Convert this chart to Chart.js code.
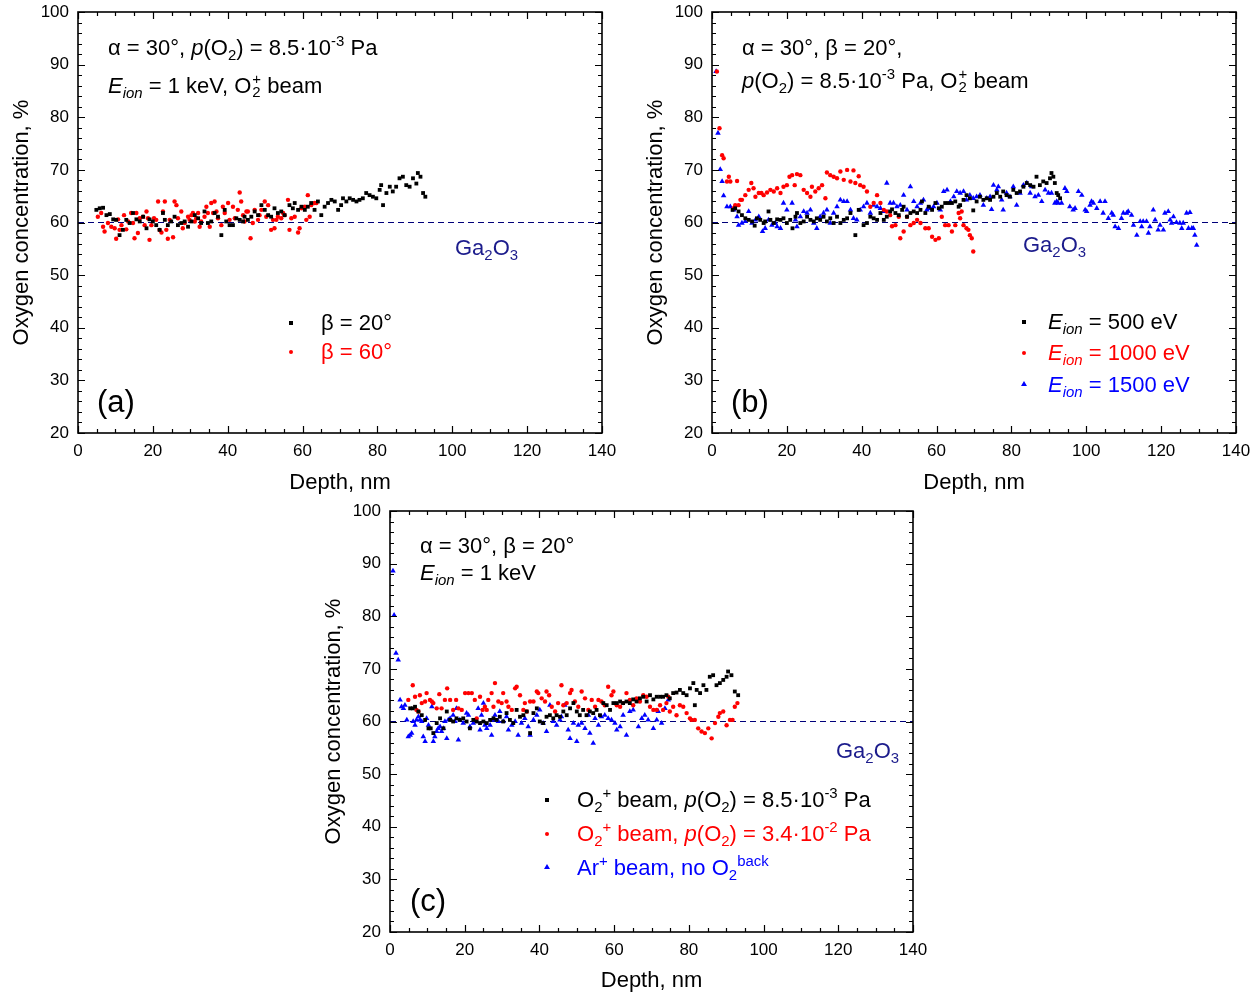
<!DOCTYPE html>
<html>
<head>
<meta charset="utf-8">
<script src="https://cdn.jsdelivr.net/npm/chart.js@4.4.1/dist/chart.umd.min.js"></script>
<style>
  body { margin: 0; background: #fff; width: 1259px; height: 995px; overflow: hidden; position: relative;
         font-family: "Liberation Sans", Arial, sans-serif; }
  canvas { position: absolute; }
  .t { position: absolute; white-space: nowrap; font-size: 22px; line-height: 24px; color: #000; }
  .t sub, .t sup { font-size: 0.68em; line-height: 0; }
  .t sub { vertical-align: -0.32em; }
  .t sup { vertical-align: 0.62em; }
  .ss { display: inline-block; position: relative; width: 0.45em; height: 1em; }
  .ss b { position: absolute; left: 1px; font-weight: normal; font-size: 0.68em; line-height: 1; }
  .ss b.p { top: 0.05em; }
  .ss b.s { top: 0.95em; }
  .red { color: #ff0000; }
  .blue { color: #0000ff; }
  .navy { color: #1c1c8c; }
  .big { font-size: 31px; line-height: 34px; }
  .mk { position: absolute; }
  .sq { width: 4px; height: 4px; background: #000; }
  .ci { width: 4px; height: 4px; border-radius: 50%; background: #ff0000; }
  .tr { width: 0; height: 0; border-left: 3px solid transparent; border-right: 3px solid transparent; border-bottom: 5px solid #0000ff; }
</style>
</head>
<body>
<canvas id="chartA" width="625" height="500" style="left:0;top:0"></canvas>
<canvas id="chartB" width="625" height="500" style="left:634px;top:0"></canvas>
<canvas id="chartC" width="624" height="496" style="left:312px;top:499px"></canvas>

<!-- panel (a) texts -->
<div class="t" style="left:108px;top:36px">α = 30°, <i>p</i>(O<sub>2</sub>) = 8.5·10<sup>-3</sup> Pa</div>
<div class="t" style="left:108px;top:71px"><i>E<sub>ion</sub></i> = 1 keV, O<span class="ss"><b class="p">+</b><b class="s">2</b></span> beam</div>
<div class="t navy" style="left:455px;top:236px">Ga<sub>2</sub>O<sub>3</sub></div>
<div class="mk sq" style="left:289px;top:321px"></div>
<div class="t" style="left:321px;top:311px">β = 20°</div>
<div class="mk ci" style="left:289px;top:350px"></div>
<div class="t red" style="left:321px;top:340px">β = 60°</div>
<div class="t big" style="left:97px;top:385px">(a)</div>

<!-- panel (b) texts -->
<div class="t" style="left:742px;top:36px">α = 30°, β = 20°,</div>
<div class="t" style="left:742px;top:66px"><i>p</i>(O<sub>2</sub>) = 8.5·10<sup>-3</sup> Pa, O<span class="ss"><b class="p">+</b><b class="s">2</b></span> beam</div>
<div class="t navy" style="left:1023px;top:233px">Ga<sub>2</sub>O<sub>3</sub></div>
<div class="mk sq" style="left:1022px;top:320px"></div>
<div class="t" style="left:1048px;top:310px"><i>E<sub>ion</sub></i> = 500 eV</div>
<div class="mk ci" style="left:1022px;top:351px"></div>
<div class="t red" style="left:1048px;top:341px"><i>E<sub>ion</sub></i> = 1000 eV</div>
<div class="mk tr" style="left:1021px;top:381px"></div>
<div class="t blue" style="left:1048px;top:373px"><i>E<sub>ion</sub></i> = 1500 eV</div>
<div class="t big" style="left:731px;top:385px">(b)</div>

<!-- panel (c) texts -->
<div class="t" style="left:420px;top:534px">α = 30°, β = 20°</div>
<div class="t" style="left:420px;top:561px"><i>E<sub>ion</sub></i> = 1 keV</div>
<div class="t navy" style="left:836px;top:739px">Ga<sub>2</sub>O<sub>3</sub></div>
<div class="mk sq" style="left:545px;top:798px"></div>
<div class="t" style="left:577px;top:788px">O<sub>2</sub><sup>+</sup> beam, <i>p</i>(O<sub>2</sub>) = 8.5·10<sup>-3</sup> Pa</div>
<div class="mk ci" style="left:545px;top:832px"></div>
<div class="t red" style="left:577px;top:822px">O<sub>2</sub><sup>+</sup> beam, <i>p</i>(O<sub>2</sub>) = 3.4·10<sup>-2</sup> Pa</div>
<div class="mk tr" style="left:544px;top:864px"></div>
<div class="t blue" style="left:577px;top:856px">Ar<sup>+</sup> beam, no O<sub>2</sub><sup>back</sup></div>
<div class="t big" style="left:410px;top:884px">(c)</div>

<script>
// axis ranges / ticks
const depthRange = [0, 140];
const oxyRange = [20, 100];
const depthStep = 20, depthMinor = 5;
const oxyStep = 10, oxyMinor = 2;

// Ga2O3 reference level
const refDepth = [0, 140];
const refLevel = [60, 60];

// (a) beta = 20 deg
const depthA20 = [4.9,5.8,6.7,7.6,8.5,9.4,10.2,11.1,12.0,12.9,13.8,14.7,15.6,16.5,17.4,18.3,19.1,20.0,20.9,21.8,
  22.7,23.2,24.0,24.9,25.8,26.7,27.6,28.5,29.4,30.3,31.2,32.1,32.9,33.8,34.7,35.6,36.5,37.4,38.3,39.2,
  39.6,40.5,41.4,42.3,43.2,44.1,44.5,45.4,46.3,47.2,48.1,49.0,49.9,50.8,51.6,52.5,53.4,54.3,55.2,56.5,
  57.4,57.9,58.8,59.7,60.6,61.4,62.3,63.2,64.1,65.0,65.9,66.8,67.7,68.6,69.5,70.3,70.8,71.7,72.6,73.5,
  74.4,75.2,76.1,77.0,77.9,78.8,79.7,80.6,81.0,81.5,82.4,83.3,84.1,85.0,85.9,86.8,87.7,88.6,89.5,90.4,
  90.8,91.5,92.2,92.8];
const oxyA20 = [62.4,62.7,62.8,61.4,61.6,60.6,60.5,57.6,58.6,60.5,59.9,61.8,60.6,60.2,61.1,58.9,60.6,60.2,59.5,58.6,
  61.8,60.5,59.5,60.2,61.1,59.5,59.9,60.2,59.2,60.2,61.4,60.8,59.9,62.1,59.9,60.2,61.8,61.1,57.6,62.4,
  60.2,59.5,59.5,60.8,60.5,60.2,61.1,60.5,61.1,62.1,61.4,63.3,62.4,61.4,61.1,62.7,61.8,62.1,61.4,63.3,
  62.7,63.7,62.4,63.0,62.4,63.0,63.7,62.4,64.0,61.4,63.0,63.7,64.3,64.0,62.4,63.3,64.6,64.0,64.6,64.3,
  64.0,64.3,64.6,65.6,65.2,64.9,64.6,66.2,67.1,63.3,65.6,66.8,65.9,66.8,68.4,68.7,67.1,66.8,68.4,67.4,
  69.4,68.7,65.6,64.9];

// (a) beta = 60 deg
const depthA60 = [5.3,6.2,6.7,7.1,8.0,8.9,9.8,10.2,10.7,11.1,11.6,12.3,12.9,13.4,14.2,14.7,15.1,15.6,16.0,16.5,
  17.4,17.8,18.3,18.7,19.1,19.6,20.3,20.9,21.4,21.8,22.3,22.7,23.2,23.6,24.0,24.5,25.4,25.8,26.3,26.7,
  27.6,28.0,28.5,29.4,29.8,30.3,30.7,31.2,31.6,32.1,32.5,32.9,33.8,34.3,34.7,35.2,35.6,36.1,36.5,37.0,
  37.4,38.3,38.7,39.2,40.1,40.5,41.4,41.9,42.7,43.2,43.6,44.1,44.5,45.0,45.4,46.1,46.7,47.2,48.1,48.5,
  49.0,49.9,50.3,50.8,51.6,52.1,52.5,53.0,53.4,54.3,54.8,55.2,56.1,56.5,57.0,57.9,58.8,59.2,59.7,60.6,
  61.0,61.4,61.9,62.3,63.2,63.7];
const oxyA60 = [61.1,61.8,59.2,58.3,59.9,59.2,58.9,56.9,60.6,58.6,59.5,61.4,58.7,60.2,61.8,59.9,57.0,61.8,58.0,60.8,
  61.1,59.5,62.1,60.8,56.7,59.5,60.8,60.5,64.0,58.6,58.1,62.1,64.0,58.6,56.9,60.5,57.2,64.0,63.3,60.8,
  62.1,58.9,59.9,61.1,60.5,61.4,61.8,60.2,60.8,61.8,59.2,60.2,61.1,63.0,61.8,59.2,63.7,61.8,64.0,62.1,
  60.8,59.5,63.0,61.8,63.7,60.5,63.0,60.8,62.4,65.7,64.0,61.4,60.2,62.1,62.1,57.0,59.9,62.4,60.5,61.4,
  62.4,64.0,61.1,63.3,58.6,60.5,58.9,60.5,61.1,60.8,61.8,61.4,64.3,58.6,60.8,61.1,58.1,58.9,62.7,63.0,
  60.5,65.2,61.1,63.3,63.7,63.7];

// (b) E = 500 eV
const depthB500 = [5.5,6.2,7.1,8.0,8.9,9.8,10.7,11.4,12.0,12.9,13.8,14.2,15.1,15.6,16.5,17.4,18.3,19.1,20.0,20.9,
  21.5,22.3,22.7,23.6,24.5,25.4,26.3,27.2,28.0,28.9,29.8,30.7,31.6,32.5,33.4,34.3,35.2,36.1,37.0,38.3,
  39.2,40.5,41.4,42.3,43.2,44.1,45.0,45.9,46.7,47.6,48.1,49.0,49.9,50.8,51.2,52.1,53.0,53.9,54.8,55.7,
  56.1,57.0,57.9,58.8,59.7,60.6,61.4,62.3,63.2,64.1,65.0,65.9,66.3,67.2,68.0,68.9,69.8,70.7,71.6,72.5,
  73.4,74.3,75.2,76.1,77.0,77.8,78.7,79.6,80.5,81.4,82.3,83.2,84.1,85.0,85.9,86.7,87.6,88.5,89.4,90.3,
  90.7,91.2,91.6,92.1,92.5,93.0];
const oxyB500 = [62.4,62.7,62.1,61.4,60.8,60.5,60.2,59.4,60.8,60.5,59.9,60.2,62.1,60.5,59.9,60.6,60.5,60.8,59.9,60.5,
  58.9,61.1,61.8,59.9,60.2,61.1,60.5,60.2,60.8,60.5,61.1,60.2,60.8,59.9,61.1,59.9,60.5,60.8,61.8,57.6,
  62.4,59.5,59.9,61.1,60.8,60.5,61.8,60.5,61.1,62.1,62.5,61.8,61.4,62.4,63.0,61.1,61.8,62.1,61.8,62.4,
  64.0,61.8,63.0,62.4,63.7,62.7,63.0,63.7,63.7,63.7,64.0,63.0,63.3,64.3,65.2,64.6,62.3,64.0,64.9,64.3,
  64.6,64.3,64.9,65.6,64.9,65.9,65.2,64.9,66.2,65.6,65.9,66.8,67.5,67.1,66.8,68.7,67.1,67.8,67.5,68.4,
  69.4,68.7,67.5,65.6,65.2,64.6];

// (b) E = 1000 eV
const depthB1000 = [1.3,2.0,2.7,3.1,4.0,4.5,4.9,5.8,6.2,6.7,7.1,7.6,8.0,8.9,9.8,10.5,11.1,11.6,12.5,13.2,
  13.8,14.7,15.6,16.5,17.4,18.3,19.1,20.0,20.7,21.4,22.1,22.7,23.6,24.5,25.4,26.3,26.7,27.6,28.5,29.4,
  30.3,30.7,31.6,32.5,33.4,34.3,35.2,36.1,37.0,37.8,38.3,39.2,39.6,40.5,41.4,42.3,43.2,44.1,45.0,45.9,
  46.7,47.6,48.1,49.0,49.9,50.3,51.2,52.1,53.0,53.9,54.8,55.7,57.0,57.9,58.8,59.7,60.6,61.4,62.3,63.2,
  64.1,65.0,65.9,66.3,66.7,67.2,68.0,68.5,68.9,69.4,69.8];
const oxyB1000 = [88.7,77.9,72.8,72.2,67.8,68.7,67.8,62.7,63.3,67.9,63.3,64.3,64.3,65.2,66.2,67.5,66.5,64.9,65.6,65.6,
  65.2,65.7,66.2,65.9,66.5,65.6,66.8,67.1,68.7,69.0,67.1,69.2,69.0,66.2,65.6,64.9,66.8,65.9,66.5,67.1,
  64.6,69.5,69.0,68.7,68.4,69.7,68.1,70.0,67.8,69.9,67.5,68.8,67.1,66.8,65.9,63.0,63.7,65.2,63.7,62.4,
  62.1,61.4,59.3,59.5,61.1,57.0,58.3,61.1,59.5,59.9,60.5,59.9,58.9,58.9,57.3,56.7,57.0,61.1,59.5,59.5,
  58.3,59.5,61.8,60.8,62.1,59.5,58.9,58.6,57.6,57.0,54.5];

// (b) E = 1500 eV
const depthB1500 = [1.1,1.6,2.2,2.7,3.1,4.0,4.9,5.8,6.7,7.1,8.0,8.9,9.8,10.7,11.6,12.5,13.5,14.2,15.1,16.0,
  16.9,17.4,18.3,19.1,20.0,21.4,22.3,22.7,23.6,24.5,25.4,26.3,27.2,28.0,28.9,29.8,30.7,31.6,32.5,33.4,
  34.3,35.2,36.1,37.0,37.8,38.7,39.6,40.5,41.4,42.3,43.2,44.1,45.0,45.9,46.7,47.6,48.5,49.4,50.3,51.2,
  52.1,53.0,53.9,54.8,55.7,56.5,57.4,58.3,59.2,60.1,61.0,61.9,62.8,63.7,64.6,65.4,
  66.3,67.2,68.0,68.9,69.8,70.7,71.6,72.5,73.4,74.3,74.7,75.2,76.1,76.5,77.4,77.8,78.7,79.6,80.5,81.4,
  82.3,83.2,84.1,85.0,85.4,86.3,87.2,88.1,89.0,89.9,90.7,91.6,92.1,92.5,93.4,94.3,94.8,95.6,96.5,97.0,
  97.9,98.8,99.7,100.1,101.0,101.4,101.9,102.8,103.7,104.5,105.0,105.9,106.8,107.2,107.7,108.6,109.4,109.9,110.8,111.2,
  112.1,112.6,113.5,114.4,114.8,115.2,116.1,116.6,117.0,117.9,118.4,119.2,119.7,120.6,121.0,121.9,122.4,122.8,123.3,124.1,
  125.0,125.5,125.9,126.8,127.3,127.7,128.2,128.6,129.0,129.5];
const oxyB1500 = [88.7,77.0,70.1,67.8,65.1,63.0,63.0,62.4,61.1,59.5,59.9,60.2,62.1,59.9,60.5,61.1,58.3,58.9,60.5,59.5,
  59.9,59.2,58.9,63.7,62.4,63.7,60.5,59.2,61.1,62.1,61.8,62.4,59.9,58.9,61.1,61.8,62.4,59.9,61.8,63.0,
  64.3,64.0,64.0,62.4,60.8,60.5,62.4,63.0,63.7,61.8,63.3,63.0,62.7,62.1,67.5,63.7,63.7,63.0,63.3,65.2,
  62.4,66.8,64.0,63.0,63.7,64.3,62.4,62.7,63.0,63.7,62.4,65.9,66.2,64.0,64.9,65.9,
  65.6,65.9,64.3,65.2,64.6,64.9,65.2,63.3,64.6,64.9,62.5,67.1,66.2,66.8,64.3,62.4,65.6,64.9,66.8,63.3,
  65.6,67.1,67.5,65.6,66.8,64.9,65.2,64.0,66.2,65.6,65.6,63.7,64.0,63.7,63.7,66.5,65.9,63.0,62.4,62.7,
  65.9,65.2,62.4,62.1,63.3,64.0,63.7,62.7,64.0,61.8,64.0,60.8,61.8,61.4,59.2,58.9,60.8,61.8,61.8,62.1,
  61.4,59.5,57.6,60.2,59.2,60.2,60.2,58.0,59.2,62.4,60.5,58.6,59.5,58.6,61.8,62.1,60.5,59.9,61.1,60.0,
  59.9,58.9,59.9,61.8,58.9,61.9,58.9,58.9,57.6,55.7];

// (c) O2+ beam, p(O2) = 8.5e-3 Pa
const depthC1 = [5.4,6.1,6.7,7.6,8.5,9.4,10.3,10.9,11.6,12.5,13.4,14.3,15.2,16.1,16.9,17.8,18.7,19.6,20.5,21.4,
  22.3,23.2,24.1,25.0,25.9,26.8,27.7,28.5,29.4,30.3,31.2,32.1,33.0,33.9,34.8,35.7,36.6,37.5,38.4,39.3,
  40.1,41.0,41.9,42.8,43.7,44.6,45.5,46.4,47.3,48.2,49.1,50.0,50.8,51.7,52.6,53.5,54.4,55.3,56.2,57.1,
  58.0,58.9,59.8,60.7,61.6,62.4,63.3,64.2,65.1,66.0,66.9,67.8,68.7,69.6,70.5,71.4,72.3,73.1,74.0,74.9,
  75.8,76.7,77.6,78.5,79.4,80.3,81.2,81.6,82.1,83.0,83.9,84.7,85.6,86.5,87.4,88.3,89.2,90.1,90.5,91.4,
  92.3,93.2];
const oxyC1 = [62.5,62.5,62.8,61.9,61.2,60.3,58.7,58.7,57.8,59.7,60.6,58.7,61.9,60.3,60.0,60.6,60.3,60.6,60.0,58.7,
  60.3,60.0,59.7,60.0,59.7,60.3,60.6,60.3,60.9,60.0,61.6,60.3,59.7,62.2,60.9,61.2,61.9,57.8,61.6,62.5,
  60.0,59.7,60.9,61.2,60.6,61.2,60.9,61.9,61.2,62.5,63.5,61.9,61.2,62.2,61.2,61.9,61.6,62.2,61.2,63.5,
  63.1,62.2,63.5,63.5,63.8,63.5,63.8,63.5,64.2,63.8,64.4,64.7,63.8,65.0,64.2,64.7,64.7,64.7,65.0,64.4,
  65.4,65.5,66.0,65.4,65.0,66.3,67.3,63.1,66.0,65.4,66.9,66.0,68.5,68.8,66.9,67.3,67.9,68.5,69.5,68.8,
  65.7,65.0];

// (c) O2+ beam, p(O2) = 3.4e-2 Pa
const depthC2 = [4.9,6.1,6.7,7.1,7.6,8.0,8.5,9.4,9.8,10.7,11.2,11.6,12.5,13.2,13.8,14.7,15.3,16.1,16.9,17.7,
  18.3,19.2,20.1,21.0,21.9,22.7,23.2,24.1,24.8,25.4,25.9,26.3,27.2,27.7,28.1,29.0,29.9,30.3,31.2,31.7,
  32.6,33.5,33.9,34.8,35.7,36.1,36.6,37.5,38.4,39.3,39.7,40.6,41.5,41.9,42.6,43.3,44.2,45.0,45.9,46.4,
  47.3,48.2,48.6,49.5,50.4,51.3,52.2,53.1,54.0,54.9,55.8,56.6,57.5,58.4,59.3,59.8,60.7,61.6,62.4,63.3,
  64.2,65.1,66.0,66.9,67.8,68.7,69.6,70.5,71.4,72.3,73.1,74.0,74.5,74.9,75.8,76.7,77.6,78.5,79.4,80.3,
  80.7,81.6,82.5,83.4,84.3,85.2,86.1,87.0,87.9,88.3,89.2,90.1,91.0,91.7,92.3,93.0];
const oxyC2 = [64.1,66.9,64.7,62.2,61.9,65.0,63.5,63.8,65.4,64.1,63.8,63.5,62.5,65.2,62.5,64.1,66.3,64.1,62.2,64.1,
  62.5,62.2,65.4,65.4,65.4,64.1,60.6,64.7,62.2,62.8,62.2,64.1,65.4,62.8,67.3,63.8,63.5,65.4,63.8,62.8,
  62.2,66.3,66.6,65.0,62.2,63.5,61.9,63.8,63.8,65.7,65.4,64.4,63.8,65.7,65.0,62.8,61.9,63.5,66.9,63.1,
  63.5,65.4,66.0,63.8,62.8,65.7,64.4,62.2,64.1,62.8,64.1,63.8,63.1,66.6,65.0,65.7,63.1,62.8,63.5,65.4,
  64.1,63.1,64.4,63.8,65.0,64.7,62.8,62.2,62.2,63.1,62.2,63.5,64.7,61.9,62.8,61.2,63.1,62.8,61.6,60.6,
  60.3,60.3,58.7,58.1,57.8,58.7,56.8,59.7,60.9,61.6,61.9,59.3,60.3,60.3,62.8,63.5];

// (c) Ar+ beam, no O2 back
const depthC3 = [0.8,1.1,1.6,2.2,2.7,3.1,3.6,4.0,4.5,4.9,5.4,5.8,6.2,6.7,7.1,7.6,8.0,8.5,8.9,9.4,
  9.8,10.3,11.2,11.6,12.0,12.5,12.9,13.4,13.8,14.3,14.7,15.2,15.6,16.1,16.9,17.4,17.8,18.3,18.7,19.6,
  20.5,21.0,21.4,22.3,23.2,23.6,24.1,24.5,25.0,25.4,25.9,26.8,27.2,27.7,28.1,29.0,29.4,30.3,31.2,31.7,
  32.6,33.5,34.3,35.2,36.1,37.0,37.5,38.4,39.3,40.1,41.0,41.9,42.8,43.7,44.6,45.5,45.9,46.8,47.7,48.2,
  49.1,50.0,50.4,51.3,52.2,53.1,53.5,54.4,54.9,55.8,56.6,57.5,58.4,59.3,60.2,60.7,61.6,62.4,63.3,64.2,
  65.1,66.5,67.4,68.2,69.1,70.5,71.4,71.8,72.7,73.6,74.5];
const oxyC3 = [88.6,80.2,73.0,71.7,64.1,62.8,62.5,63.1,60.3,57.1,57.4,57.8,60.0,59.3,60.3,60.9,60.3,60.0,57.1,56.2,
  60.6,59.3,62.8,56.2,57.1,58.1,58.7,59.0,58.1,58.7,60.0,56.8,60.3,60.6,61.2,60.0,62.5,56.5,60.3,59.7,
  61.6,61.2,59.0,59.7,60.0,62.5,58.4,61.2,63.5,59.3,58.7,59.3,57.4,60.3,61.2,60.0,61.9,60.0,60.9,58.4,
  59.3,60.0,57.4,59.7,60.6,59.0,57.4,60.3,61.2,62.2,59.7,58.1,63.1,60.0,59.3,60.3,60.9,63.1,58.4,56.8,
  59.7,56.2,59.3,59.7,58.7,61.2,57.8,55.9,60.6,59.3,60.9,61.2,60.6,60.3,59.7,58.4,59.0,61.2,57.4,61.9,
  62.2,59.0,60.6,61.2,60.3,58.7,60.3,61.9,59.7,62.5,64.1];

Chart.defaults.font.family = '"Liberation Sans", Arial, sans-serif';
Chart.defaults.color = '#000';

function pts(xs, ys) {
  return xs.map((x, i) => ({x: x, y: ys[i]}));
}

function series(xs, ys, color, style, radius) {
  return {
    data: pts(xs, ys),
    backgroundColor: color,
    borderColor: color,
    borderWidth: 0,
    pointStyle: style,
    pointRadius: radius,
    showLine: false,
    order: 1
  };
}

function refLine() {
  return {
    data: pts(refDepth, refLevel),
    showLine: true,
    borderColor: '#00007a',
    borderWidth: 1.2,
    borderDash: [6, 4],
    pointRadius: 0,
    order: 5
  };
}

// frame with inward major/minor ticks on all four sides
const frameTicks = {
  id: 'frameTicks',
  afterDatasetsDraw(chart) {
    const {ctx, chartArea: a, scales: {x, y}} = chart;
    ctx.save();
    ctx.strokeStyle = '#000';
    ctx.lineWidth = 1.2;
    ctx.beginPath();
    for (let v = depthRange[0]; v <= depthRange[1]; v += depthMinor) {
      const px = Math.round(x.getPixelForValue(v)) + 0.5;
      const len = v % depthStep === 0 ? 7 : 4;
      ctx.moveTo(px, a.bottom); ctx.lineTo(px, a.bottom - len);
      ctx.moveTo(px, a.top); ctx.lineTo(px, a.top + len);
    }
    for (let v = oxyRange[0]; v <= oxyRange[1]; v += oxyMinor) {
      const py = Math.round(y.getPixelForValue(v)) + 0.5;
      const len = v % oxyStep === 0 ? 7 : 4;
      ctx.moveTo(a.left, py); ctx.lineTo(a.left + len, py);
      ctx.moveTo(a.right, py); ctx.lineTo(a.right - len, py);
    }
    ctx.stroke();
    ctx.lineWidth = 1.6;
    ctx.strokeRect(a.left, a.top, a.right - a.left, a.bottom - a.top);
    ctx.restore();
  }
};

function makePanel(id, datasets, xHeight, xTitlePad) {
  return new Chart(document.getElementById(id), {
    type: 'scatter',
    data: {datasets: datasets},
    plugins: [frameTicks],
    options: {
      responsive: false,
      animation: false,
      layout: {padding: {top: 12, right: 23, left: 0, bottom: 0}},
      plugins: {legend: {display: false}, tooltip: {enabled: false}},
      scales: {
        x: {
          type: 'linear', min: depthRange[0], max: depthRange[1],
          ticks: {stepSize: depthStep, padding: 8, font: {size: 17}, color: '#000'},
          grid: {display: false, drawTicks: false},
          border: {display: false},
          title: {display: true, text: 'Depth, nm', color: '#000', font: {size: 22}, padding: {top: 0, bottom: xTitlePad}},
          afterFit: s => { s.height = xHeight; s.paddingLeft = 0; s.paddingRight = 0; }
        },
        y: {
          type: 'linear', min: oxyRange[0], max: oxyRange[1],
          ticks: {stepSize: oxyStep, padding: 9, font: {size: 17}, color: '#000'},
          grid: {display: false, drawTicks: false},
          border: {display: false},
          title: {display: true, text: 'Oxygen concentration, %', color: '#000', font: {size: 22}, padding: {top: 9, bottom: 0}},
          afterFit: s => { s.width = 78; s.paddingTop = 0; s.paddingBottom = 0; }
        }
      }
    }
  });
}

makePanel('chartA', [
  series(depthA20, oxyA20, '#000000', 'rect', 2.7),
  series(depthA60, oxyA60, '#ff0000', 'circle', 2.2),
  refLine()
], 67, 4);

makePanel('chartB', [
  series(depthB500, oxyB500, '#000000', 'rect', 2.7),
  series(depthB1000, oxyB1000, '#ff0000', 'circle', 2.2),
  series(depthB1500, oxyB1500, '#0000ff', 'triangle', 3.2),
  refLine()
], 67, 4);

makePanel('chartC', [
  series(depthC1, oxyC1, '#000000', 'rect', 2.7),
  series(depthC2, oxyC2, '#ff0000', 'circle', 2.2),
  series(depthC3, oxyC3, '#0000ff', 'triangle', 3.2),
  refLine()
], 63, 1);
</script>
</body>
</html>
